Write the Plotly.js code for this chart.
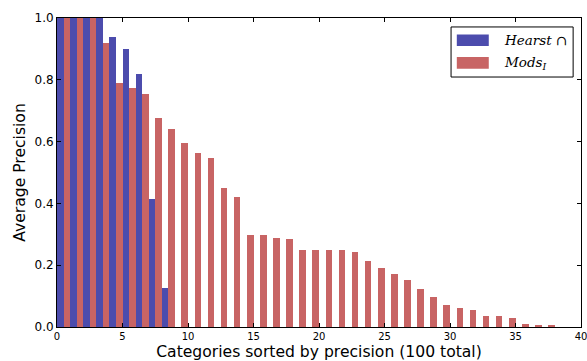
<!DOCTYPE html>
<html>
<head>
<meta charset="utf-8">
<script src="https://cdn.plot.ly/plotly-3.0.1.min.js"></script>
<style>html,body{margin:0;padding:0;background:#fff;}#chart{width:587px;height:361px;}</style>
</head>
<body>
<div id="chart"></div>
<script>
// Category index (sorted by precision)
const hearstCats = [0, 1, 2, 3, 4, 5, 6, 7, 8];
const hearstVals = [1.0, 1.0, 1.0, 1.0, 0.94, 0.90, 0.82, 0.415, 0.125];

const modsCats = [0,1,2,3,4,5,6,7,8,9,10,11,12,13,14,15,16,17,18,19,20,21,22,23,24,25,26,27,28,29,30,31,32,33,34,35,36,37];
const modsVals = [1.0, 1.0, 1.0, 0.92, 0.79, 0.775, 0.755, 0.675, 0.64, 0.595,
                  0.563, 0.547, 0.45, 0.421, 0.298, 0.298, 0.288, 0.285, 0.249, 0.249,
                  0.249, 0.249, 0.243, 0.214, 0.191, 0.172, 0.152, 0.123, 0.097, 0.071,
                  0.061, 0.055, 0.036, 0.036, 0.029, 0.010, 0.006, 0.006];

const xTicks = [0, 5, 10, 15, 20, 25, 30, 35, 40];
const yTicks = [0.0, 0.2, 0.4, 0.6, 0.8, 1.0];

const blue = '#4c4cad';
const red = '#c86464';

const traces = [
  {type: 'bar', x: hearstCats, y: hearstVals, width: 0.5, offset: 0,
   marker: {color: blue, line: {width: 0}}, name: 'Hearst ∩', showlegend: false},
  {type: 'bar', x: modsCats, y: modsVals, width: 0.5, offset: 0.5,
   marker: {color: red, line: {width: 0}}, name: 'Mods_I', showlegend: false}
];

// legend geometry in paper coordinates
const L = {x0: 0.752, x1: 0.985, y0: 0.809, y1: 0.971};
const P = {x0: 0.763, x1: 0.824};
const rowY = [0.928, 0.855];

const layout = {
  width: 587, height: 361,
  margin: {l: 57, r: 6, t: 18, b: 34},
  paper_bgcolor: '#fff', plot_bgcolor: '#fff',
  font: {family: 'DejaVu Sans', color: '#000', size: 12},
  barmode: 'overlay',
  bargap: 0,
  xaxis: {
    range: [0, 40], tickvals: xTicks, ticktext: xTicks.map(String),
    ticklabeloverflow: 'allow',
    showgrid: false, zeroline: false, showline: true, mirror: 'ticks',
    linecolor: '#000', linewidth: 1, ticks: 'inside', ticklen: 4, tickcolor: '#000',
    tickfont: {size: 10, family: 'DejaVu Sans'},
    title: {text: 'Categories sorted by precision (100 total)', font: {size: 15.6, family: 'DejaVu Sans'}, standoff: 5}
  },
  yaxis: {
    range: [0, 1], tickvals: yTicks, ticktext: yTicks.map(v => v.toFixed(1)),
    ticklabeloverflow: 'allow',
    showgrid: false, zeroline: false, showline: true, mirror: 'ticks',
    linecolor: '#000', linewidth: 1, ticks: 'inside', ticklen: 4, tickcolor: '#000',
    tickfont: {size: 12, family: 'DejaVu Sans'},
    title: {text: 'Average Precision', font: {size: 15.6, family: 'DejaVu Sans'}, standoff: 5}
  },
  shapes: [
    {type: 'rect', xref: 'paper', yref: 'paper', x0: L.x0, x1: L.x1, y0: L.y0, y1: L.y1,
     line: {color: '#000', width: 1}, fillcolor: '#fff', layer: 'above'},
    {type: 'rect', xref: 'paper', yref: 'paper', x0: P.x0, x1: P.x1, y0: rowY[0] - 0.019, y1: rowY[0] + 0.019,
     line: {width: 0}, fillcolor: blue, layer: 'above'},
    {type: 'rect', xref: 'paper', yref: 'paper', x0: P.x0, x1: P.x1, y0: rowY[1] - 0.019, y1: rowY[1] + 0.019,
     line: {width: 0}, fillcolor: red, layer: 'above'}
  ],
  annotations: [
    {xref: 'paper', yref: 'paper', x: 0.85, y: rowY[0], xanchor: 'left', yanchor: 'middle',
     text: '<i>Hearst</i> ∩', showarrow: false, font: {family: 'DejaVu Serif', size: 13.5}},
    {xref: 'paper', yref: 'paper', x: 0.85, y: rowY[1], xanchor: 'left', yanchor: 'middle',
     text: '<i>Mods<sub>I</sub></i>', showarrow: false, font: {family: 'DejaVu Serif', size: 13.5}}
  ]
};

Plotly.newPlot('chart', traces, layout, {staticPlot: true, displayModeBar: false});
</script>
</body>
</html>
